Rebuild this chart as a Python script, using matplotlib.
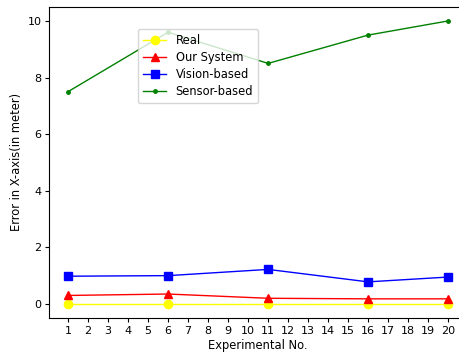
import matplotlib
matplotlib.use('Agg')
import matplotlib.pyplot as plt

# Dados
experimentos = [1, 6, 11, 16, 20]
real = [0, 0, 0, 0, 0]
nosso_sistema = [0.3, 0.35, 0.2, 0.18, 0.18]
visao = [0.98, 1.0, 1.22, 0.78, 0.95]
sensor = [7.5, 9.6, 8.5, 9.5, 10.0]

fig = plt.figure(figsize=(4.59, 3.57), dpi=100)
ax = fig.add_axes([0.1068, 0.109, 0.911, 0.872])

ax.plot(experimentos, real, color='yellow', marker='o', markersize=6, linewidth=1, label='Real')
ax.plot(experimentos, nosso_sistema, color='red', marker='^', markersize=6, linewidth=1, label='Our System')
ax.plot(experimentos, visao, color='blue', marker='s', markersize=5.5, linewidth=1, label='Vision-based')
ax.plot(experimentos, sensor, color='green', marker='.', markersize=5, linewidth=1, label='Sensor-based')

ax.set_xticks(range(1, 21))
ax.tick_params(labelsize=8, length=3, pad=2.5)
ax.set_xlabel('Experimental No.', fontsize=8.3, labelpad=2.5)
ax.set_ylabel('Error in X-axis(in meter)', fontsize=8.3, labelpad=3)
ax.legend(loc='upper left', bbox_to_anchor=(0.213, 0.93), borderaxespad=0,
          fontsize=8.3, labelspacing=0.36, borderpad=0.45)

fig.savefig('out.png', dpi=100)
